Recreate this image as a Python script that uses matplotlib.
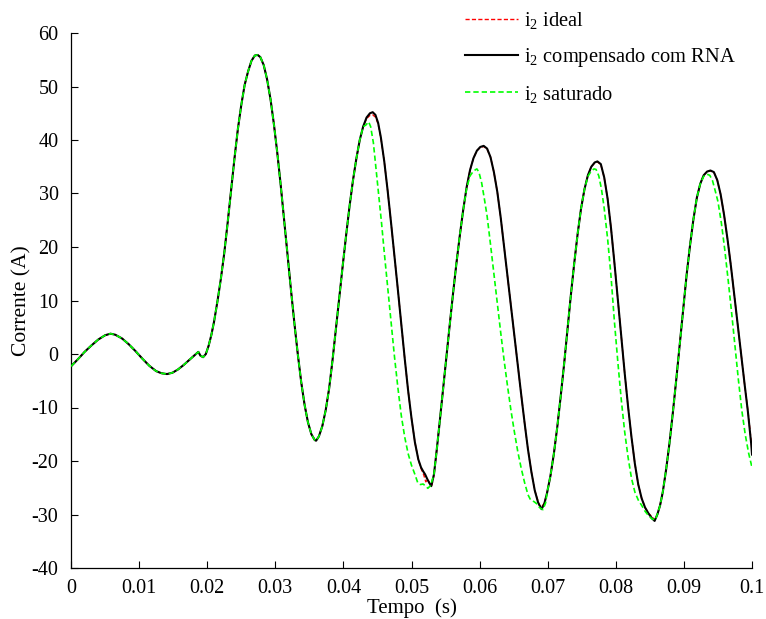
import matplotlib
matplotlib.use("Agg")
import matplotlib.pyplot as plt
import numpy as np

# ---- data ----
# common part (all three curves coincide)
t_common = [0, 0.001, 0.002, 0.003, 0.004, 0.005, 0.0058, 0.0065, 0.0075, 0.0085,
            0.0095, 0.0105, 0.0115, 0.0125, 0.0133, 0.0141, 0.0149, 0.0157, 0.0165,
            0.0173, 0.018, 0.0187, 0.019, 0.0194, 0.0198, 0.0202, 0.0206, 0.021,
            0.0215, 0.022, 0.0225, 0.023, 0.0235, 0.024, 0.0245, 0.025, 0.0255,
            0.026, 0.0265, 0.027, 0.0274, 0.0278, 0.0283, 0.0288, 0.0293, 0.0298,
            0.0303, 0.0308, 0.0313, 0.0318, 0.0323, 0.0328, 0.0333, 0.0338, 0.0343,
            0.0348, 0.0353, 0.0358, 0.036, 0.0364, 0.0369, 0.0374, 0.0379, 0.0384,
            0.0389, 0.0394, 0.0399, 0.0404, 0.0409, 0.0414, 0.0419, 0.0424, 0.0429]
i_common = [-2.3, -1.0, 0.4, 1.6, 2.7, 3.5, 3.8, 3.6, 2.9, 1.8,
            0.5, -0.9, -2.2, -3.2, -3.6, -3.75, -3.5, -2.9, -2.1,
            -1.2, -0.4, 0.4, -0.3, -0.6, 0.0, 1.5, 3.5, 6.0,
            9.8, 14.0, 18.8, 24.5, 30.5, 36.5, 42.0, 46.5, 50.3,
            52.8, 54.8, 55.8, 55.9, 55.5, 54.0, 51.3, 47.6, 42.9,
            37.5, 31.5, 25.1, 18.5, 12.0, 5.8, 0.0, -5.2, -9.5,
            -12.8, -15.0, -16.1, -16.2, -15.4, -13.5, -10.5, -6.5, -1.2,
            4.7, 10.6, 16.5, 22.2, 27.6, 32.4, 36.5, 40.0, 42.5]

# i2 compensado com RNA (after the curves separate)
t_comp = [0.0429, 0.0434, 0.0439, 0.0443, 0.0447, 0.0451, 0.0455, 0.046, 0.0465, 0.047,
          0.0475, 0.048, 0.0485, 0.049, 0.0495, 0.05, 0.0505, 0.051, 0.0514, 0.0517,
          0.052, 0.0524, 0.0529, 0.0533, 0.0537, 0.0541, 0.0546, 0.0551, 0.0556, 0.0561,
          0.0566, 0.0571, 0.0576, 0.0581, 0.0586, 0.0591, 0.0596, 0.0601, 0.0606, 0.0611,
          0.0616, 0.0621, 0.0626, 0.0631, 0.0636, 0.0641, 0.0646, 0.0651, 0.0656, 0.0661,
          0.0666, 0.0671, 0.0676, 0.0681, 0.0686, 0.0691, 0.0695, 0.0699, 0.0704, 0.0709,
          0.0714, 0.0719, 0.0724, 0.0729, 0.0734, 0.0739, 0.0744, 0.0749, 0.0754, 0.0759,
          0.0764, 0.0769, 0.0773, 0.0778, 0.0783, 0.0788, 0.0793, 0.0798, 0.0803, 0.0808,
          0.0813, 0.0818, 0.0823, 0.0828, 0.0833, 0.0838, 0.0843, 0.0848, 0.0853, 0.0857,
          0.0861, 0.0865, 0.0869, 0.0874, 0.0879, 0.0884, 0.0889, 0.0894, 0.0899, 0.0904,
          0.0909, 0.0914, 0.0919, 0.0924, 0.0929, 0.0934, 0.0939, 0.0944, 0.0949, 0.0954,
          0.0959, 0.0964, 0.0969, 0.0974, 0.0979, 0.0984, 0.0989, 0.0994, 0.0999, 0.1]
i_comp = [42.5, 44.2, 45.0, 45.2, 44.7, 43.2, 40.5, 36.0, 30.5, 24.5,
          18.3, 12.0, 5.5, -0.8, -6.8, -12.0, -16.5, -19.7, -21.2, -21.9,
          -22.5, -23.6, -24.7, -22.5, -18.0, -13.2, -7.0, -0.8, 5.3, 11.3,
          17.0, 22.2, 27.0, 31.2, 34.4, 36.6, 38.0, 38.7, 38.9, 38.4,
          36.8, 34.0, 30.3, 25.5, 20.0, 14.5, 9.0, 3.5, -2.0, -7.5,
          -12.8, -17.8, -22.0, -25.5, -27.8, -29.0, -28.0, -26.0, -22.8, -18.7,
          -13.7, -8.0, -2.0, 4.5, 11.0, 17.0, 22.5, 27.2, 30.8, 33.4,
          35.0, 35.8, 36.0, 35.5, 33.0, 29.0, 23.5, 17.0, 10.2, 3.3,
          -3.5, -9.8, -15.5, -20.5, -24.4, -27.0, -28.7, -29.8, -30.7, -31.2,
          -30.0, -28.3, -25.8, -21.5, -16.5, -10.7, -4.5, 2.0, 8.6, 14.8,
          20.3, 25.2, 29.2, 31.8, 33.4, 34.1, 34.3, 34.0, 32.5, 29.8,
          26.0, 21.5, 16.5, 11.0, 5.5, 0.0, -5.5, -10.8, -17.0, -18.8]

# i2 ideal (after the curves separate)
t_ideal = [0.0429, 0.0434, 0.0439, 0.0443, 0.0447, 0.0451, 0.0455, 0.046, 0.0465, 0.047,
           0.0475, 0.048, 0.0485, 0.049, 0.0495, 0.05, 0.0505, 0.051, 0.0514, 0.0518,
           0.0521, 0.0524, 0.0527, 0.053, 0.0533, 0.0537, 0.0541, 0.0546, 0.0551, 0.0556,
           0.0561, 0.0566, 0.0571, 0.0576, 0.0581, 0.0586, 0.0591, 0.0596, 0.0601, 0.0606,
           0.0611, 0.0616, 0.0621, 0.0626, 0.0631, 0.0636, 0.0641, 0.0646, 0.0651, 0.0656,
           0.0661, 0.0666, 0.0671, 0.0676, 0.0681, 0.0686, 0.0688, 0.0691, 0.0695, 0.0699,
           0.0704, 0.0709, 0.0714, 0.0719, 0.0724, 0.0729, 0.0734, 0.0739, 0.0744, 0.0749,
           0.0754, 0.0759, 0.0764, 0.0769, 0.0773, 0.0778, 0.0783, 0.0788, 0.0793, 0.0798,
           0.0803, 0.0808, 0.0813, 0.0818, 0.0823, 0.0828, 0.0833, 0.0838, 0.0843, 0.0848,
           0.0853, 0.0857, 0.0861, 0.0865, 0.0869, 0.0874, 0.0879, 0.0884, 0.0889, 0.0894,
           0.0899, 0.0904, 0.0909, 0.0914, 0.0919, 0.0924, 0.0929, 0.0934, 0.0939, 0.0944,
           0.0949, 0.0954, 0.0959, 0.0964, 0.0969, 0.0974, 0.0979, 0.0984, 0.0989, 0.0994,
           0.0999, 0.1]
i_ideal = [42.5, 44.0, 44.6, 44.7, 44.3, 43.0, 40.4, 36.0, 30.5, 24.5,
           18.3, 12.0, 5.5, -0.8, -6.8, -12.0, -16.5, -19.7, -21.4, -22.6,
           -23.9, -23.4, -24.4, -24.5, -22.6, -18.0, -13.2, -7.0, -0.8, 5.3,
           11.3, 17.0, 22.2, 27.0, 31.2, 34.4, 36.6, 38.0, 38.6, 38.8,
           38.3, 36.8, 34.0, 30.3, 25.5, 20.0, 14.5, 9.0, 3.5, -2.0,
           -7.5, -12.8, -17.8, -22.0, -25.5, -27.6, -28.3, -28.6, -27.9, -26.0,
           -22.8, -18.7, -13.7, -8.0, -2.0, 4.5, 11.0, 17.0, 22.5, 27.2,
           30.8, 33.4, 35.0, 35.7, 35.9, 35.4, 33.0, 29.0, 23.5, 17.0,
           10.2, 3.3, -3.5, -9.8, -15.5, -20.5, -24.4, -27.0, -28.7, -29.8,
           -30.4, -31.0, -30.0, -28.3, -25.8, -21.5, -16.5, -10.7, -4.5, 2.0,
           8.6, 14.8, 20.3, 25.2, 29.2, 31.8, 33.4, 34.1, 34.2, 34.0,
           32.5, 29.8, 26.0, 21.5, 16.5, 11.0, 5.5, 0.0, -5.5, -10.6,
           -16.6, -18.4]

# i2 saturado (after the curves separate)
t_sat = [0.0429, 0.0433, 0.0437, 0.044, 0.0444, 0.0448, 0.0452, 0.0456, 0.046, 0.0465,
         0.047, 0.0475, 0.048, 0.0485, 0.049, 0.0495, 0.05, 0.0505, 0.0509, 0.0513,
         0.0517, 0.052, 0.0524, 0.0528, 0.0533, 0.0537, 0.0541, 0.0546, 0.0551, 0.0556,
         0.0561, 0.0566, 0.0571, 0.0576, 0.0581, 0.0586, 0.0591, 0.0596, 0.0599, 0.0603,
         0.0607, 0.0611, 0.0616, 0.0621, 0.0626, 0.0631, 0.0636, 0.0641, 0.0646, 0.0651,
         0.0656, 0.0661, 0.0666, 0.0671, 0.0675, 0.068, 0.0684, 0.0688, 0.0693, 0.0697,
         0.0699, 0.0704, 0.0709, 0.0714, 0.0719, 0.0724, 0.0729, 0.0734, 0.0739, 0.0744,
         0.0749, 0.0754, 0.0759, 0.0764, 0.0768, 0.0771, 0.0775, 0.0779, 0.0783, 0.0788,
         0.0793, 0.0798, 0.0803, 0.0808, 0.0813, 0.0818, 0.0823, 0.0828, 0.0833, 0.0838,
         0.0843, 0.0848, 0.0853, 0.0858, 0.0862, 0.0865, 0.0869, 0.0874, 0.0879, 0.0884,
         0.0889, 0.0894, 0.0899, 0.0904, 0.0909, 0.0914, 0.0919, 0.0924, 0.0929, 0.0934,
         0.0938, 0.0942, 0.0946, 0.095, 0.0955, 0.096, 0.0965, 0.097, 0.0975, 0.098,
         0.0985, 0.099, 0.0995, 0.1]
i_sat = [42.5, 42.8, 43.4, 42.5, 39.5, 34.5, 29.5, 24.5, 19.0, 12.5,
         6.0, -0.5, -6.3, -11.5, -15.5, -18.6, -20.8, -22.5, -24.0, -24.4,
         -24.3, -24.6, -25.1, -24.6, -22.5, -18.0, -13.2, -7.0, -0.8, 5.3,
         11.3, 17.0, 22.2, 27.0, 31.0, 33.3, 34.2, 34.6, 34.0, 32.0,
         29.0, 25.8, 20.5, 15.0, 9.5, 4.0, -1.2, -6.0, -10.5, -14.5,
         -18.2, -21.3, -24.0, -26.3, -27.3, -27.6, -28.0, -28.7, -29.1, -27.8,
         -26.0, -22.8, -18.7, -13.7, -8.0, -2.0, 4.5, 11.0, 17.0, 22.5,
         27.2, 30.8, 33.2, 34.2, 34.6, 34.5, 33.3, 30.8, 27.2, 21.5,
         14.5, 6.0, -1.5, -8.5, -14.5, -19.3, -23.2, -25.8, -27.3, -28.3,
         -29.4, -30.2, -30.8, -31.0, -29.6, -28.3, -25.8, -21.5, -16.5, -10.7,
         -4.5, 2.0, 8.6, 14.8, 20.3, 25.2, 29.2, 31.8, 33.2, 33.6,
         33.4, 32.4, 30.5, 28.5, 24.5, 19.5, 13.8, 7.8, 1.5, -4.8,
         -10.5, -15.0, -18.5, -21.2]

labels = [r"i$_\mathrm{2}$ ideal", r"i$_\mathrm{2}$ compensado com RNA", r"i$_\mathrm{2}$ saturado"]
xticks = [0, 0.01, 0.02, 0.03, 0.04, 0.05, 0.06, 0.07, 0.08, 0.09, 0.1]
xticklabels = ["0", "0.01", "0.02", "0.03", "0.04", "0.05", "0.06", "0.07", "0.08", "0.09", "0.1"]
yticks = [-40, -30, -20, -10, 0, 10, 20, 30, 40, 50, 60]

# ---- plotting ----
plt.rcParams["font.family"] = ["Liberation Serif", "DejaVu Serif"]
plt.rcParams["mathtext.fontset"] = "custom"
plt.rcParams["mathtext.rm"] = "Liberation Serif"
plt.rcParams["mathtext.it"] = "Liberation Serif:italic"
plt.rcParams["axes.unicode_minus"] = False

fig = plt.figure(figsize=(7.66, 6.19), dpi=100)
ax = fig.add_axes([71 / 766, 1 - 568 / 619, (752 - 71) / 766, (568 - 33) / 619])

t_id = np.array(t_common[:-1] + t_ideal)
y_id = np.array(i_common[:-1] + i_ideal)
t_cp = np.array(t_common[:-1] + t_comp)
y_cp = np.array(i_common[:-1] + i_comp)
t_st = np.array(t_common[:-1] + t_sat)
y_st = np.array(i_common[:-1] + i_sat)

ax.plot(t_id, y_id, color="#ff0000", lw=1.0, dashes=(3, 1.6), label=labels[0], zorder=2)
ax.plot(t_cp, y_cp, color="black", lw=1.5, label=labels[1], zorder=3)
ax.plot(t_st, y_st, color="#00ff00", lw=1.2, dashes=(3.2, 1.8), label=labels[2], zorder=4)

ax.set_xlim(0, 0.1)
ax.set_ylim(-40, 60)
ax.set_xticks(xticks)
ax.set_xticklabels(xticklabels)
ax.set_yticks(yticks)
ax.tick_params(direction="in", length=5, width=0.8, labelsize=14.5)
ax.tick_params(axis="x", pad=8)
ax.tick_params(axis="y", pad=9)
for s in ["top", "right"]:
    ax.spines[s].set_visible(False)
for s in ["left", "bottom"]:
    ax.spines[s].set_linewidth(0.9)

ax.set_xlabel("Tempo  (s)", fontsize=15, labelpad=0)
ax.set_ylabel("Corrente (A)", fontsize=15.5)
ax.yaxis.set_label_coords((31 - 71) / 681, 0.5)

leg = ax.legend(loc="upper left", bbox_to_anchor=(465 / 766, 1 - 10 / 619),
                bbox_transform=fig.transFigure, frameon=False, fontsize=14.8,
                handlelength=2.6, handletextpad=0.25, labelspacing=0.72,
                borderpad=0, borderaxespad=0)

fig.savefig("out.png", dpi=100)
